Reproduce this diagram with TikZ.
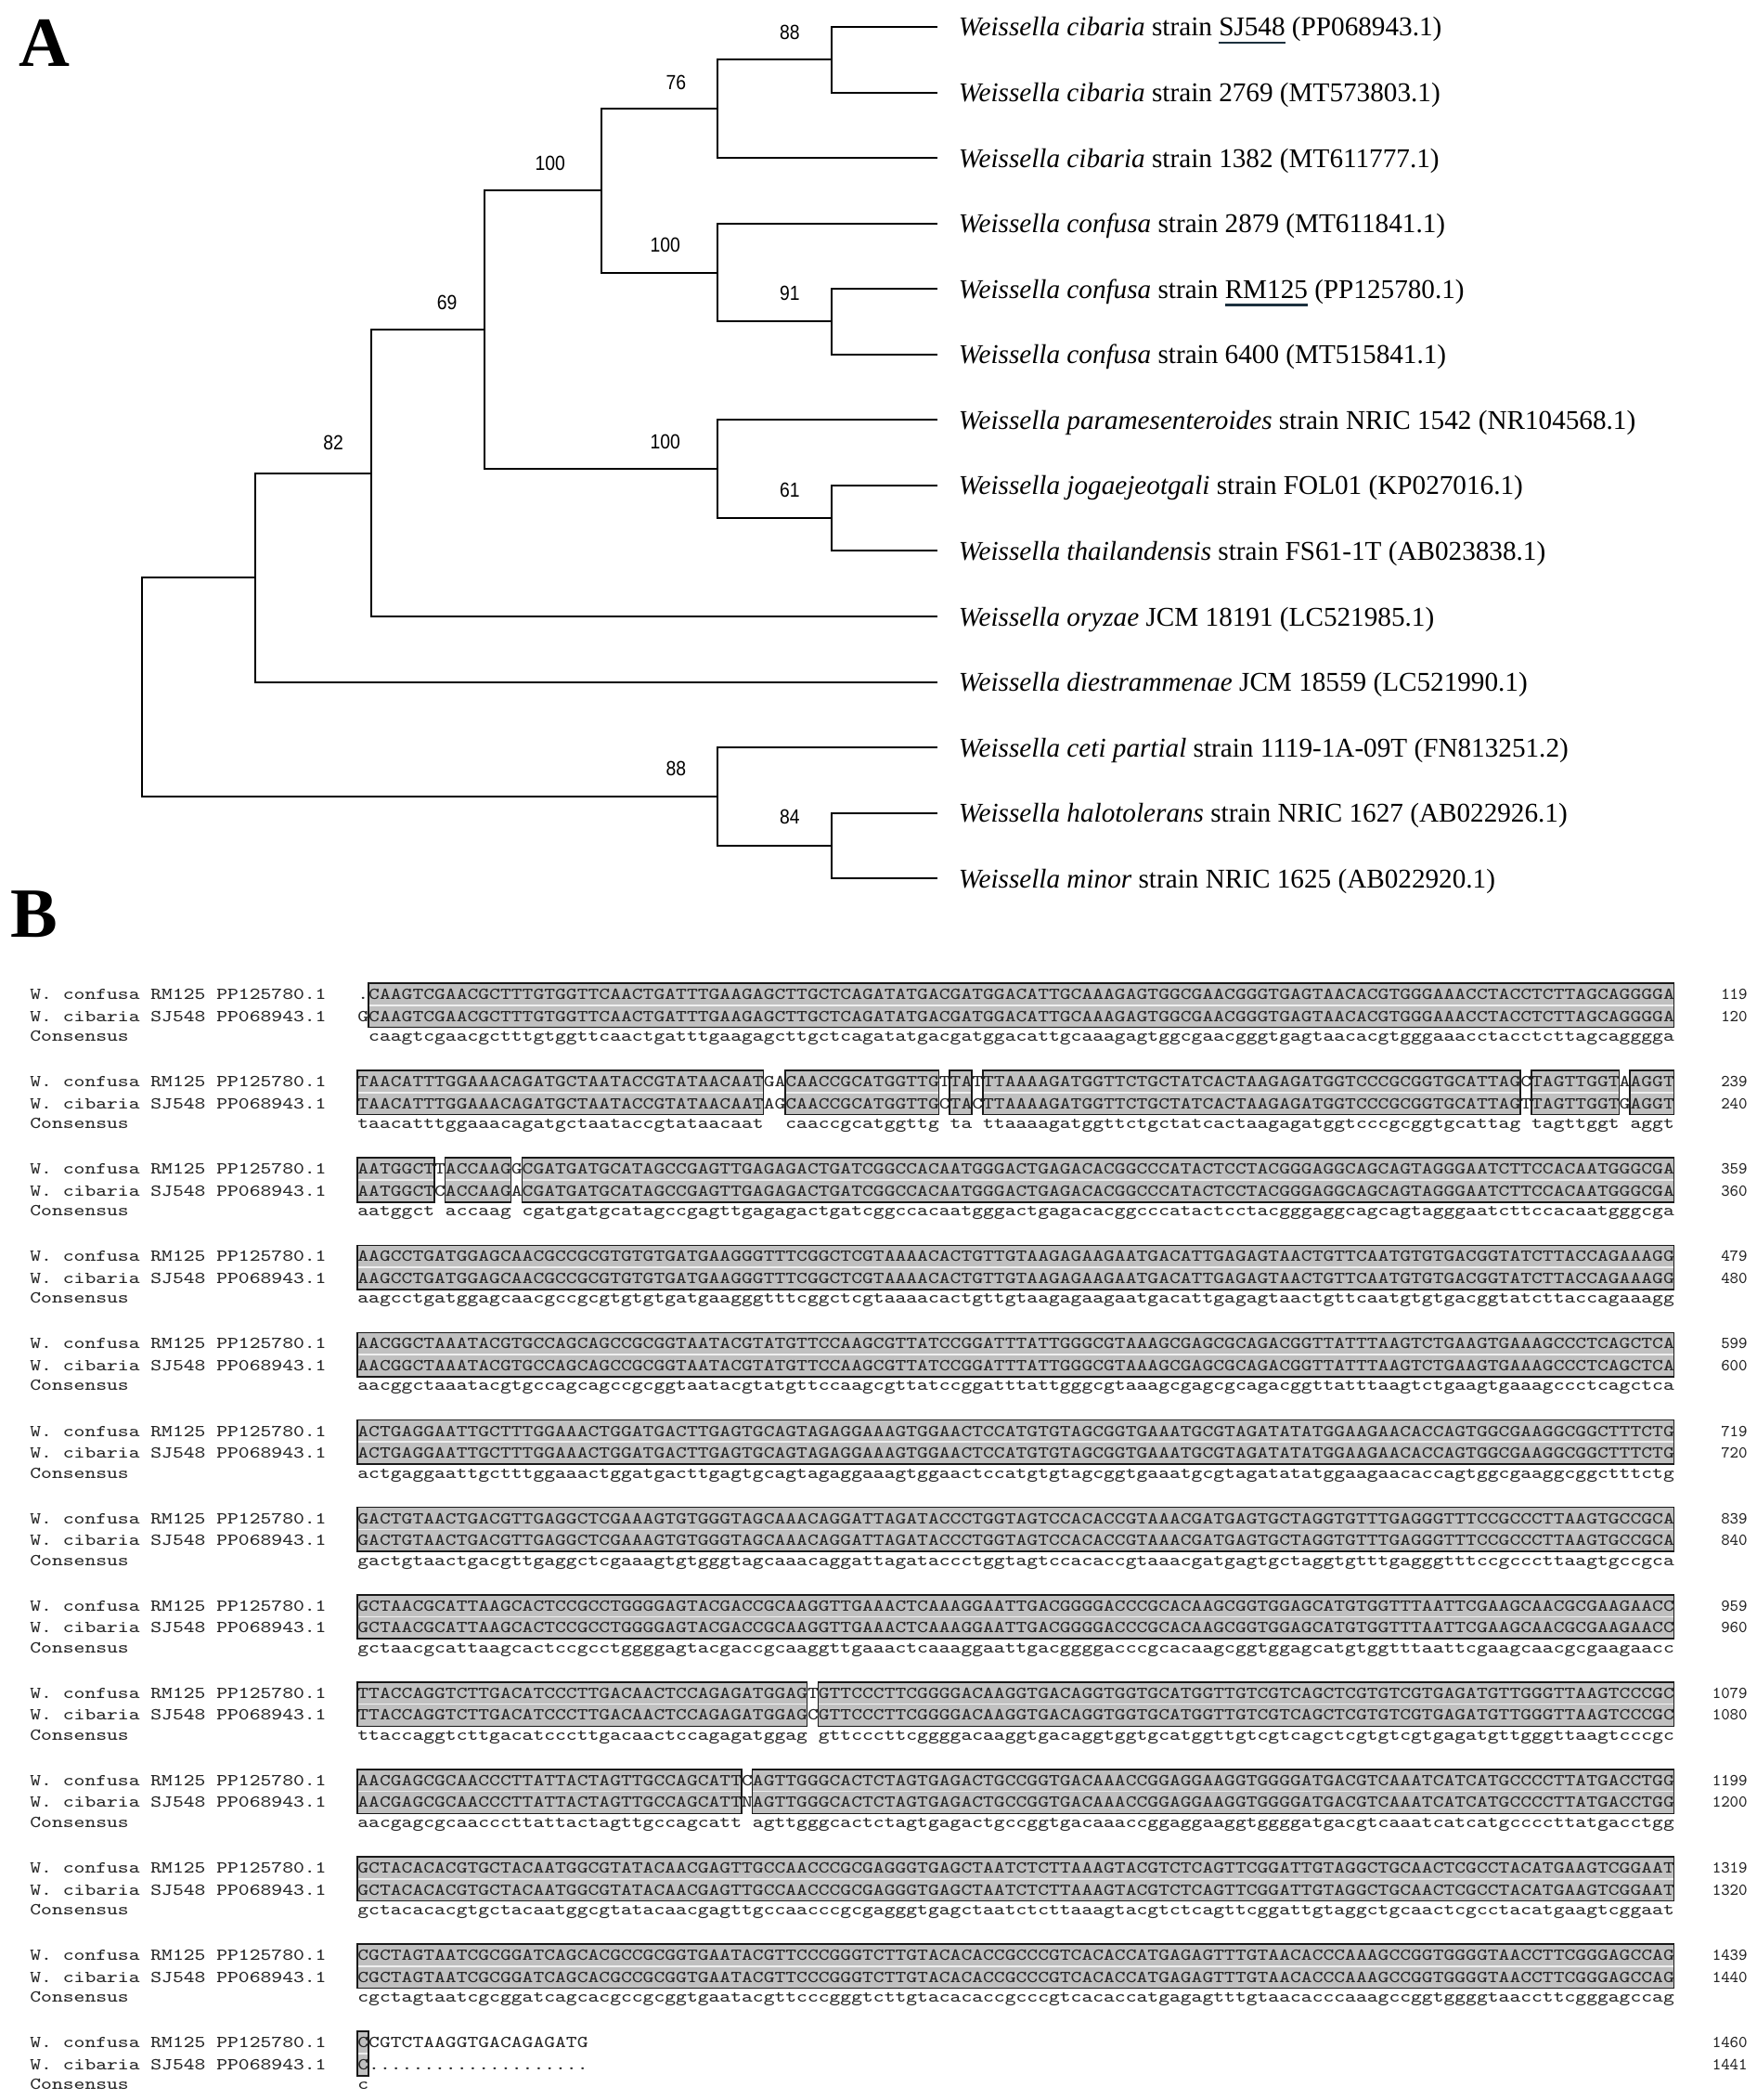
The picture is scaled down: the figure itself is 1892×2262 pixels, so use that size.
\documentclass[tikz,border=0pt]{standalone}
\usepackage{fontspec}
\setmainfont{Liberation Serif}
\newfontfamily\bootfont{Liberation Sans}
\usepackage{graphicx}
\usepackage{xcolor}
\definecolor{ulcol}{RGB}{28,48,62}
\definecolor{boxgray}{RGB}{192,192,192}
\newcommand\seqs[1]{\scalebox{1.2508}[1]{\fontsize{9}{10}\selectfont\ttfamily #1}}
\newcommand\bootn[1]{\scalebox{0.88}[1]{\bootfont\fontsize{11}{13}\selectfont #1}}
\newcommand\ulmark[1]{\setbox0=\hbox{#1}\rlap{\textcolor{ulcol}{\rule[-4.2pt]{\wd0}{1.1pt}}}#1}
\tikzset{
  seqtext/.style={anchor=base west, inner sep=0pt, text=black!85},
  numtext/.style={anchor=base east, inner sep=0pt, font=\fontsize{9}{10}\selectfont\ttfamily, text=black!85},
  leaflab/.style={anchor=base west, inner sep=0pt, font=\fontsize{14.6}{17}\selectfont},
  bootlab/.style={inner sep=0pt},
  branch/.style={line width=1pt, line join=miter},
  panel/.style={anchor=base west, inner sep=0pt, font=\fontsize{38}{40}\selectfont\bfseries},
  boxfill/.style={fill=boxgray},
  boxmid/.style={draw=white!88!gray, line width=0.8pt},
  boxline/.style={draw=black!90, line width=0.8pt}
}
\newcommand\alnbox[3]{%
  \pgfmathsetmacro\bxa{385+(#2-1)*11.82}%
  \pgfmathsetmacro\bxb{385+#3*11.82}%
  \pgfmathsetmacro\bya{1071+(#1-1)*94.1-12}%
  \pgfmathsetmacro\byb{\bya+47.5}%
  \pgfmathsetmacro\bym{(\bya+\byb)/2}%
  \fill[boxfill] (\bxa,\bya) rectangle (\bxb,\byb);
  \draw[boxmid] (\bxa,\bym) -- (\bxb,\bym);
  \draw[boxline] (\bxa,\bya) rectangle (\bxb,\byb);
}
\newcommand\alnblock[6]{%
  \pgfmathsetmacro\rowa{1071+(#1-1)*94.1+5.5}%
  \pgfmathsetmacro\rowb{\rowa+23.5}%
  \pgfmathsetmacro\rowc{\rowa+45}%
  \node[seqtext] (nameA#1) at (32,\rowa) {\seqs{W.~confusa~RM125~PP125780.1}};
  \node[seqtext] (nameB#1) at (32,\rowb) {\seqs{W.~cibaria~SJ548~PP068943.1}};
  \node[seqtext] (nameC#1) at (32,\rowc) {\seqs{Consensus}};
  \node[seqtext] (seqA#1) at (385,\rowa) {\seqs{#2}};
  \node[seqtext] (seqB#1) at (385,\rowb) {\seqs{#3}};
  \node[seqtext] (seqC#1) at (385,\rowc) {\seqs{\lowercase{#4}}};
  \node[numtext] (numA#1) at (1883,\rowa) {#5};
  \node[numtext] (numB#1) at (1883,\rowb) {#6};
}
\begin{document}
\begin{tikzpicture}[x=0.5pt,y=-0.5pt]
\useasboundingbox (0,0) rectangle (1892,2262);
\fill[white] (0,0) rectangle (1892,2262);

% ---------- Panel A: tree ----------
\node[panel] (labA) at (20,72) {A};
\node[panel] (labB) at (11.5,1009) {B};

\foreach \i/\yy in {1/29.0,2/99.6,3/170.1,4/240.7,5/311.2,6/381.8,7/452.3,8/522.9,9/593.4,10/664.0,11/734.5,12/805.1,13/875.6,14/946.2}{
  \coordinate (L\i) at (1009.5,\yy);
}
\coordinate (nA) at (895.5,64.3);
\coordinate (nB) at (773,117.2);
\coordinate (nC) at (895.5,346.5);
\coordinate (nD) at (773,293.6);
\coordinate (nE) at (647.5,205.4);
\coordinate (nF) at (895.5,558.1);
\coordinate (nG) at (773,505.2);
\coordinate (nH) at (522,355.3);
\coordinate (nI) at (399.5,509.6);
\coordinate (nJ) at (275.4,622.1);
\coordinate (nK) at (895.5,910.9);
\coordinate (nL) at (773,858);
\coordinate (nR) at (152.9,740);

\draw[branch] (nA) |- (L1);
\draw[branch] (nA) |- (L2);
\draw[branch] (nB) |- (nA);
\draw[branch] (nB) |- (L3);
\draw[branch] (nC) |- (L5);
\draw[branch] (nC) |- (L6);
\draw[branch] (nD) |- (L4);
\draw[branch] (nD) |- (nC);
\draw[branch] (nE) |- (nB);
\draw[branch] (nE) |- (nD);
\draw[branch] (nF) |- (L8);
\draw[branch] (nF) |- (L9);
\draw[branch] (nG) |- (L7);
\draw[branch] (nG) |- (nF);
\draw[branch] (nH) |- (nE);
\draw[branch] (nH) |- (nG);
\draw[branch] (nI) |- (nH);
\draw[branch] (nI) |- (L10);
\draw[branch] (nJ) |- (nI);
\draw[branch] (nJ) |- (L11);
\draw[branch] (nK) |- (L13);
\draw[branch] (nK) |- (L14);
\draw[branch] (nL) |- (L12);
\draw[branch] (nL) |- (nK);
\draw[branch] (nR) |- (nJ);
\draw[branch] (nR) |- (nL);

\node[bootlab] (bA) at (850.8,34.6) {\bootn{88}};
\node[bootlab] (bB) at (728.3,89.4) {\bootn{76}};
\node[bootlab] (bE) at (592.7,175.9) {\bootn{100}};
\node[bootlab] (bD) at (716.7,263.9) {\bootn{100}};
\node[bootlab] (bC) at (850.8,315.8) {\bootn{91}};
\node[bootlab] (bH) at (481.7,325.9) {\bootn{69}};
\node[bootlab] (bI) at (359.1,477.3) {\bootn{82}};
\node[bootlab] (bG) at (716.7,475.9) {\bootn{100}};
\node[bootlab] (bF) at (850.8,527.8) {\bootn{61}};
\node[bootlab] (bL) at (728.3,827.8) {\bootn{88}};
\node[bootlab] (bK) at (850.8,879.7) {\bootn{84}};

\node[leaflab] (t1) at (1032.5,39.0) {\textit{Weissella cibaria} strain \ulmark{SJ548} (PP068943.1)};
\node[leaflab] (t2) at (1032.5,109.6) {\textit{Weissella cibaria} strain 2769 (MT573803.1)};
\node[leaflab] (t3) at (1032.5,180.1) {\textit{Weissella cibaria} strain 1382 (MT611777.1)};
\node[leaflab] (t4) at (1032.5,250.7) {\textit{Weissella confusa} strain 2879 (MT611841.1)};
\node[leaflab] (t5) at (1032.5,321.2) {\textit{Weissella confusa} strain \ulmark{RM125} (PP125780.1)};
\node[leaflab] (t6) at (1032.5,391.8) {\textit{Weissella confusa} strain 6400 (MT515841.1)};
\node[leaflab] (t7) at (1032.5,462.3) {\textit{Weissella paramesenteroides} strain NRIC 1542 (NR104568.1)};
\node[leaflab] (t8) at (1032.5,532.9) {\textit{Weissella jogaejeotgali} strain FOL01 (KP027016.1)};
\node[leaflab] (t9) at (1032.5,603.4) {\textit{Weissella thailandensis} strain FS61-1T (AB023838.1)};
\node[leaflab] (t10) at (1032.5,674.0) {\textit{Weissella oryzae} JCM 18191 (LC521985.1)};
\node[leaflab] (t11) at (1032.5,744.5) {\textit{Weissella diestrammenae} JCM 18559 (LC521990.1)};
\node[leaflab] (t12) at (1032.5,815.1) {\textit{Weissella ceti partial} strain 1119-1A-09T (FN813251.2)};
\node[leaflab] (t13) at (1032.5,885.6) {\textit{Weissella halotolerans} strain NRIC 1627 (AB022926.1)};
\node[leaflab] (t14) at (1032.5,956.2) {\textit{Weissella minor} strain NRIC 1625 (AB022920.1)};

% ---------- Panel B: alignment ----------
\alnbox{1}{2}{120}
\alnbox{2}{1}{37}\alnbox{2}{40}{53}\alnbox{2}{55}{56}\alnbox{2}{58}{106}\alnbox{2}{108}{115}\alnbox{2}{117}{120}
\alnbox{3}{1}{7}\alnbox{3}{9}{14}\alnbox{3}{16}{120}
\alnbox{4}{1}{120}
\alnbox{5}{1}{120}
\alnbox{6}{1}{120}
\alnbox{7}{1}{120}
\alnbox{8}{1}{120}
\alnbox{9}{1}{41}\alnbox{9}{43}{120}
\alnbox{10}{1}{35}\alnbox{10}{37}{120}
\alnbox{11}{1}{120}
\alnbox{12}{1}{120}
\alnbox{13}{1}{1}

\alnblock{1}{.CAAGTCGAACGCTTTGTGGTTCAACTGATTTGAAGAGCTTGCTCAGATATGACGATGGACATTGCAAAGAGTGGCGAACGGGTGAGTAACACGTGGGAAACCTACCTCTTAGCAGGGGA}
{GCAAGTCGAACGCTTTGTGGTTCAACTGATTTGAAGAGCTTGCTCAGATATGACGATGGACATTGCAAAGAGTGGCGAACGGGTGAGTAACACGTGGGAAACCTACCTCTTAGCAGGGGA}
{~CAAGTCGAACGCTTTGTGGTTCAACTGATTTGAAGAGCTTGCTCAGATATGACGATGGACATTGCAAAGAGTGGCGAACGGGTGAGTAACACGTGGGAAACCTACCTCTTAGCAGGGGA}{119}{120}

\alnblock{2}{TAACATTTGGAAACAGATGCTAATACCGTATAACAATGACAACCGCATGGTTGTTATTTAAAAGATGGTTCTGCTATCACTAAGAGATGGTCCCGCGGTGCATTAGCTAGTTGGTAAGGT}
{TAACATTTGGAAACAGATGCTAATACCGTATAACAATAGCAACCGCATGGTTGCTACTTAAAAGATGGTTCTGCTATCACTAAGAGATGGTCCCGCGGTGCATTAGTTAGTTGGTGAGGT}
{TAACATTTGGAAACAGATGCTAATACCGTATAACAAT~~CAACCGCATGGTTG~TA~TTAAAAGATGGTTCTGCTATCACTAAGAGATGGTCCCGCGGTGCATTAG~TAGTTGGT~AGGT}{239}{240}

\alnblock{3}{AATGGCTTACCAAGGCGATGATGCATAGCCGAGTTGAGAGACTGATCGGCCACAATGGGACTGAGACACGGCCCATACTCCTACGGGAGGCAGCAGTAGGGAATCTTCCACAATGGGCGA}
{AATGGCTCACCAAGACGATGATGCATAGCCGAGTTGAGAGACTGATCGGCCACAATGGGACTGAGACACGGCCCATACTCCTACGGGAGGCAGCAGTAGGGAATCTTCCACAATGGGCGA}
{AATGGCT~ACCAAG~CGATGATGCATAGCCGAGTTGAGAGACTGATCGGCCACAATGGGACTGAGACACGGCCCATACTCCTACGGGAGGCAGCAGTAGGGAATCTTCCACAATGGGCGA}{359}{360}

\def\seqD{AAGCCTGATGGAGCAACGCCGCGTGTGTGATGAAGGGTTTCGGCTCGTAAAACACTGTTGTAAGAGAAGAATGACATTGAGAGTAACTGTTCAATGTGTGACGGTATCTTACCAGAAAGG}
\alnblock{4}{\seqD}{\seqD}{AAGCCTGATGGAGCAACGCCGCGTGTGTGATGAAGGGTTTCGGCTCGTAAAACACTGTTGTAAGAGAAGAATGACATTGAGAGTAACTGTTCAATGTGTGACGGTATCTTACCAGAAAGG}{479}{480}

\def\seqE{AACGGCTAAATACGTGCCAGCAGCCGCGGTAATACGTATGTTCCAAGCGTTATCCGGATTTATTGGGCGTAAAGCGAGCGCAGACGGTTATTTAAGTCTGAAGTGAAAGCCCTCAGCTCA}
\alnblock{5}{\seqE}{\seqE}{AACGGCTAAATACGTGCCAGCAGCCGCGGTAATACGTATGTTCCAAGCGTTATCCGGATTTATTGGGCGTAAAGCGAGCGCAGACGGTTATTTAAGTCTGAAGTGAAAGCCCTCAGCTCA}{599}{600}

\def\seqF{ACTGAGGAATTGCTTTGGAAACTGGATGACTTGAGTGCAGTAGAGGAAAGTGGAACTCCATGTGTAGCGGTGAAATGCGTAGATATATGGAAGAACACCAGTGGCGAAGGCGGCTTTCTG}
\alnblock{6}{\seqF}{\seqF}{ACTGAGGAATTGCTTTGGAAACTGGATGACTTGAGTGCAGTAGAGGAAAGTGGAACTCCATGTGTAGCGGTGAAATGCGTAGATATATGGAAGAACACCAGTGGCGAAGGCGGCTTTCTG}{719}{720}

\def\seqG{GACTGTAACTGACGTTGAGGCTCGAAAGTGTGGGTAGCAAACAGGATTAGATACCCTGGTAGTCCACACCGTAAACGATGAGTGCTAGGTGTTTGAGGGTTTCCGCCCTTAAGTGCCGCA}
\alnblock{7}{\seqG}{\seqG}{GACTGTAACTGACGTTGAGGCTCGAAAGTGTGGGTAGCAAACAGGATTAGATACCCTGGTAGTCCACACCGTAAACGATGAGTGCTAGGTGTTTGAGGGTTTCCGCCCTTAAGTGCCGCA}{839}{840}

\def\seqH{GCTAACGCATTAAGCACTCCGCCTGGGGAGTACGACCGCAAGGTTGAAACTCAAAGGAATTGACGGGGACCCGCACAAGCGGTGGAGCATGTGGTTTAATTCGAAGCAACGCGAAGAACC}
\alnblock{8}{\seqH}{\seqH}{GCTAACGCATTAAGCACTCCGCCTGGGGAGTACGACCGCAAGGTTGAAACTCAAAGGAATTGACGGGGACCCGCACAAGCGGTGGAGCATGTGGTTTAATTCGAAGCAACGCGAAGAACC}{959}{960}

\alnblock{9}{TTACCAGGTCTTGACATCCCTTGACAACTCCAGAGATGGAGTGTTCCCTTCGGGGACAAGGTGACAGGTGGTGCATGGTTGTCGTCAGCTCGTGTCGTGAGATGTTGGGTTAAGTCCCGC}
{TTACCAGGTCTTGACATCCCTTGACAACTCCAGAGATGGAGCGTTCCCTTCGGGGACAAGGTGACAGGTGGTGCATGGTTGTCGTCAGCTCGTGTCGTGAGATGTTGGGTTAAGTCCCGC}
{TTACCAGGTCTTGACATCCCTTGACAACTCCAGAGATGGAG~GTTCCCTTCGGGGACAAGGTGACAGGTGGTGCATGGTTGTCGTCAGCTCGTGTCGTGAGATGTTGGGTTAAGTCCCGC}{1079}{1080}

\alnblock{10}{AACGAGCGCAACCCTTATTACTAGTTGCCAGCATTCAGTTGGGCACTCTAGTGAGACTGCCGGTGACAAACCGGAGGAAGGTGGGGATGACGTCAAATCATCATGCCCCTTATGACCTGG}
{AACGAGCGCAACCCTTATTACTAGTTGCCAGCATTNAGTTGGGCACTCTAGTGAGACTGCCGGTGACAAACCGGAGGAAGGTGGGGATGACGTCAAATCATCATGCCCCTTATGACCTGG}
{AACGAGCGCAACCCTTATTACTAGTTGCCAGCATT~AGTTGGGCACTCTAGTGAGACTGCCGGTGACAAACCGGAGGAAGGTGGGGATGACGTCAAATCATCATGCCCCTTATGACCTGG}{1199}{1200}

\def\seqK{GCTACACACGTGCTACAATGGCGTATACAACGAGTTGCCAACCCGCGAGGGTGAGCTAATCTCTTAAAGTACGTCTCAGTTCGGATTGTAGGCTGCAACTCGCCTACATGAAGTCGGAAT}
\alnblock{11}{\seqK}{\seqK}{GCTACACACGTGCTACAATGGCGTATACAACGAGTTGCCAACCCGCGAGGGTGAGCTAATCTCTTAAAGTACGTCTCAGTTCGGATTGTAGGCTGCAACTCGCCTACATGAAGTCGGAAT}{1319}{1320}

\def\seqL{CGCTAGTAATCGCGGATCAGCACGCCGCGGTGAATACGTTCCCGGGTCTTGTACACACCGCCCGTCACACCATGAGAGTTTGTAACACCCAAAGCCGGTGGGGTAACCTTCGGGAGCCAG}
\alnblock{12}{\seqL}{\seqL}{CGCTAGTAATCGCGGATCAGCACGCCGCGGTGAATACGTTCCCGGGTCTTGTACACACCGCCCGTCACACCATGAGAGTTTGTAACACCCAAAGCCGGTGGGGTAACCTTCGGGAGCCAG}{1439}{1440}

\alnblock{13}{CCGTCTAAGGTGACAGAGATG}{C....................}{C}{1460}{1441}
\end{tikzpicture}
\end{document}
